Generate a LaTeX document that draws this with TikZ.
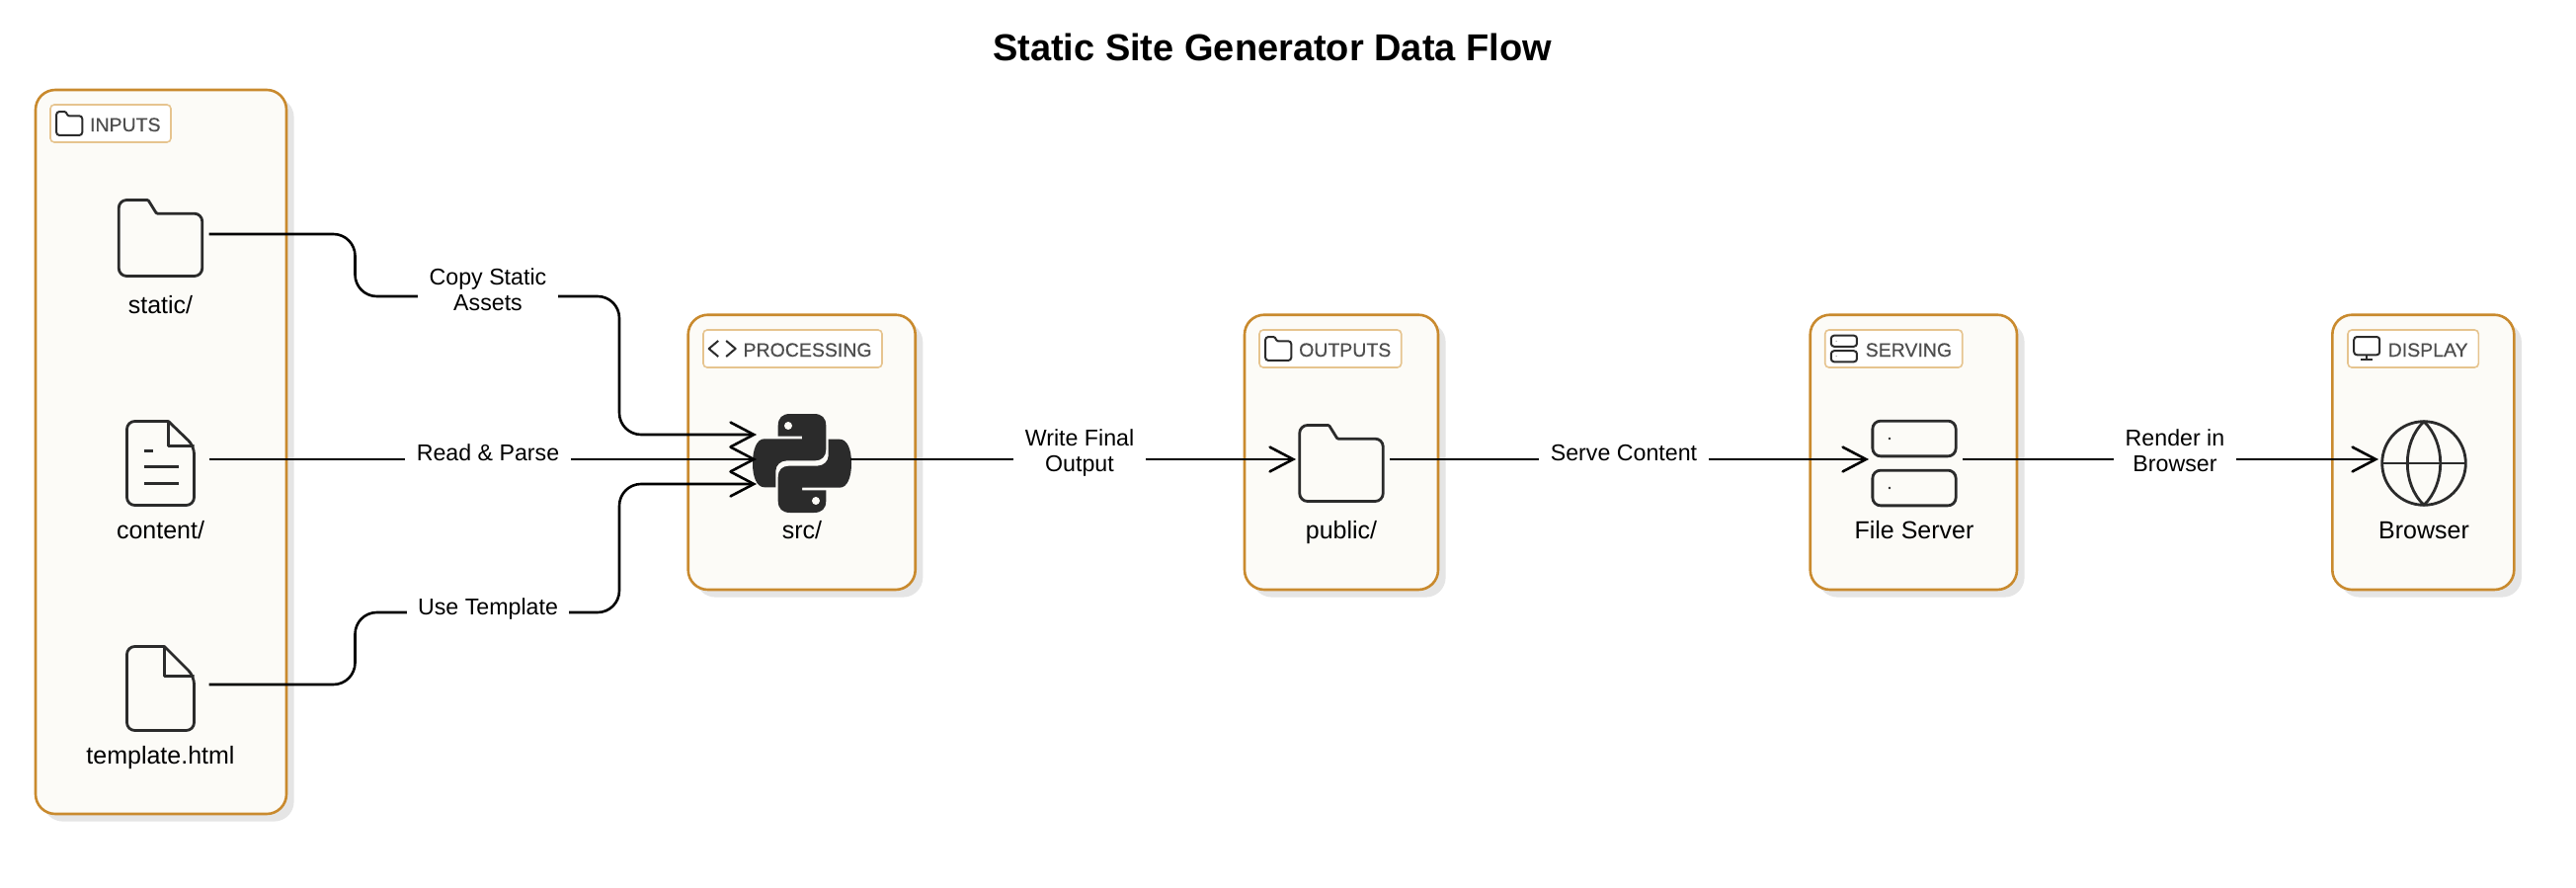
\documentclass[tikz,border=0pt]{standalone}
\usepackage{fontspec}
\setmainfont{Liberation Sans}
\newfontfamily\tagfont[FakeBold=0.35]{Liberation Sans}
\usetikzlibrary{arrows.meta,shadows}
\definecolor{paneledge}{HTML}{C98A2E}
\definecolor{panelfill}{HTML}{FCFBF7}
\definecolor{tagedge}{HTML}{E6C48F}
\definecolor{tagink}{HTML}{4D4D4D}
\definecolor{iconink}{HTML}{2B2B2B}
\tikzset{
iconround/.store in=\iconround, iconround=4pt,
glyphwidth/.store in=\glyphwidth, glyphwidth=1.4pt,
foldx/.store in=\foldx, foldx=8,
foldy/.store in=\foldy, foldy=-17.5,
glyph/.style={draw=iconink, line width=\glyphwidth, line join=round},
smallglyph/.style={scale=.31, iconround=1.5pt, glyphwidth=1pt},
panel/.style={rectangle, draw=paneledge, line width=1.3pt, fill=panelfill, rounded corners=10pt,
  drop shadow={shadow xshift=3.8pt, shadow yshift=-3.8pt, fill=black!10, opacity=1}},
tagbox/.style={rectangle, draw=tagedge, line width=.8pt, fill=white, rounded corners=2pt,
  minimum height=19pt, inner sep=0pt},
taglabel/.style={anchor=base east, inner sep=0pt, text=tagink, font=\tagfont\fontsize{9.75}{11}\selectfont},
iconspot/.style={inner sep=0pt, outer sep=0pt, minimum width=49pt, minimum height=45pt},
iconlabel/.style={anchor=base, inner sep=0pt, font=\fontsize{12.5}{14}\selectfont},
edgelabel/.style={fill=white, align=center, inner xsep=5.75pt, inner ysep=0pt, text depth=2.5pt,
  font=\fontsize{11.6}{13}\selectfont},
flow/.style={draw=black, line width=1.3pt, rounded corners=11pt, shorten >=-1.5pt,
  -{Straight Barb[length=11.8pt,width=12.4pt,line cap=round]}},
foldericon/.pic={
  \draw[glyph] (-12.5,-38.5) [rounded corners=\iconround] -- (-42.25,-38.5) -- (-42.25,38.5)
    -- (42.25,38.5) -- (42.25,-24.8) [rounded corners=.5pt] -- (-4,-24.8) -- cycle;
},
docicon/.pic={
  \draw[glyph] (\foldx,-42.5) [rounded corners=\iconround] -- (-34,-42.5) -- (-34,42.5) -- (34,42.5)
    -- (34,\foldy) [sharp corners] -- (\foldx,-42.5) -- (\foldx,\foldy) -- (34,\foldy);
},
textlines/.pic={
  \draw[glyph] (-17,-12.5) -- (-8,-12.5) (-17,3.5) -- (18,3.5) (-17,20.5) -- (18,20.5);
},
snakehalf/.pic={
  \fill[iconink] (-24.3,-27.3) -- (-24.3,-38) .. controls (-24.3,-46) and (-20,-50) .. (-12,-50)
    -- (12,-50) .. controls (20,-50) and (24.3,-46) .. (24.3,-38) -- (24.3,-14)
    .. controls (24.3,-7) and (20,-2.7) .. (13.3,-2.7) -- (-15,-2.7)
    .. controls (-22,-2.7) and (-26.7,2) .. (-26.7,8) -- (-26.7,24.3) -- (-38,24.3)
    .. controls (-46,24.3) and (-50,14) .. (-50,0) .. controls (-50,-14) and (-46,-24.7) .. (-38,-24.7)
    -- (0,-24.7) -- (0,-27.3) -- cycle;
  \fill[panelfill] (-14,-38) circle [radius=2pt];
},
servericon/.pic={
  \draw[glyph, rounded corners=\iconround] (-42.15,-42.85) rectangle (42.15,-7.15);
  \draw[glyph, rounded corners=\iconround] (-42.15,7.15) rectangle (42.15,42.85);
  \fill[iconink] (-25,-25) circle [radius=.7pt] (-25,25) circle [radius=.7pt];
},
globeicon/.pic={
  \draw[glyph] (0,0) circle [radius=21.15pt];
  \draw[glyph] (-42.3,0) -- (42.3,0);
  \draw[glyph] (0,-42.3) .. controls (22.3,-21) and (22.3,21) .. (0,42.3)
    .. controls (-22.3,21) and (-22.3,-21) .. (0,-42.3) -- cycle;
},
monitoricon/.pic={
  \draw[glyph, rounded corners=1.5pt] (-13,-12) rectangle (13,6.3);
  \draw[glyph] (0,6.3) -- (0,11.3) (-6,11.3) -- (6,11.3);
},
chevrons/.pic={
  \draw[glyph] (-4,-8) -- (-13.5,0) -- (-4,8) (4,-8) -- (13.5,0) -- (4,8);
}
}

\begin{document}
\begin{tikzpicture}[x=.5pt, y=-.5pt]
\useasboundingbox (0,0) rectangle (2608,899);

\node [anchor=base, inner sep=0pt, font=\fontsize{19}{21}\selectfont\bfseries] (title) at (1288,62) {Static Site Generator Data Flow};

% panels
\node [panel, minimum width=127pt, minimum height=366.5pt] (inputs) at (163,457.5) {};
\node [panel, minimum width=115pt, minimum height=139.15pt] (processing) at (811.7,457.85) {};
\node [panel, minimum width=98pt, minimum height=139.15pt] (outputs) at (1358,457.85) {};
\node [panel, minimum width=104.65pt, minimum height=139.15pt] (serving) at (1937.35,457.85) {};
\node [panel, minimum width=92pt, minimum height=139.15pt] (display) at (2453.3,457.85) {};

% tags
\node [tagbox, minimum width=61pt] (inputstag) at (112,125) {};
\node [tagbox, minimum width=90.5pt] (processingtag) at (802.5,353) {};
\node [tagbox, minimum width=71.85pt] (outputstag) at (1346.85,353) {};
\node [tagbox, minimum width=69.5pt] (servingtag) at (1917.2,353) {};
\node [tagbox, minimum width=66.15pt] (displaytag) at (2443.15,353) {};
\node [taglabel] (inputstext) at (163,133) {INPUTS};
\node [taglabel] (processingtext) at (883,361) {PROCESSING};
\node [taglabel] (outputstext) at (1408.7,361) {OUTPUTS};
\node [taglabel] (servingtext) at (1976.5,361) {SERVING};
\node [taglabel] (displaytext) at (2499,361) {DISPLAY};
\pic [smallglyph] at ([xshift=10pt]inputstag.west) {foldericon};
\pic [glyphwidth=1pt] at ([xshift=10pt]processingtag.west) {chevrons};
\pic [smallglyph] at ([xshift=10pt]outputstag.west) {foldericon};
\pic [smallglyph] at ([xshift=10pt]servingtag.west) {servericon};
\pic [glyphwidth=1pt] at ([xshift=10pt]displaytag.west) {monitoricon};

% icons
\node [iconspot] (static) at (162.5,237) {};
\node [iconspot] (content) at (162.5,465) {};
\node [iconspot] (template) at (162.5,693) {};
\node [iconspot] (src) at (812,465) {};
\node [iconspot] (public) at (1358,465) {};
\node [iconspot] (server) at (1938,465) {};
\node [iconspot] (browser) at (2454,465) {};
\pic at ([yshift=-2pt]static) {foldericon};
\pic at ([yshift=-2pt]content) {docicon};
\pic at ([yshift=-2pt]content) {textlines};
\pic [foldx=4, foldy=-12.5] at ([yshift=-2pt]template) {docicon};
\pic at ([yshift=-2pt]src) {snakehalf};
\pic [rotate=180] at ([yshift=-2pt]src) {snakehalf};
\pic at ([yshift=-2pt]public) {foldericon};
\pic at ([yshift=-2pt]server) {servericon};
\pic at ([yshift=-2pt]browser) {globeicon};

\node [iconlabel] (staticname) at ([yshift=-40pt]static) {static/};
\node [iconlabel] (contentname) at ([yshift=-40pt]content) {content/};
\node [iconlabel] (templatename) at ([yshift=-40pt]template) {template.html};
\node [iconlabel] (srcname) at ([yshift=-40pt]src) {src/};
\node [iconlabel] (publicname) at ([yshift=-40pt]public) {public/};
\node [iconlabel] (servername) at ([yshift=-40pt]server) {File Server};
\node [iconlabel] (browsername) at ([yshift=-40pt]browser) {Browser};

% connectors
\draw [flow] (static.east) -- (359.5,237) -- (359.5,300) -- (627,300) -- (627,440) -- ([yshift=12.5pt]src.west);
\draw [flow] (content.east) -- (src.west);
\draw [flow] (template.east) -- (359.5,693) -- (359.5,620) -- (627,620) -- (627,490) -- ([yshift=-12.5pt]src.west);
\draw [flow] (src.east) -- (public.west);
\draw [flow] (public.east) -- (server.west);
\draw [flow] (server.east) -- (browser.west);

\node [edgelabel] (copylabel) at (494,295.5) {Copy Static\\Assets};
\node [edgelabel] (readlabel) at (494,460.7) {Read \& Parse};
\node [edgelabel] (uselabel) at (494,616.5) {Use Template};
\node [edgelabel] (writelabel) at (1093,458.5) {Write Final\\Output};
\node [edgelabel] (servelabel) at (1644,460.7) {Serve Content};
\node [edgelabel] (renderlabel) at (2202,458.5) {Render in\\Browser};

\end{tikzpicture}
\end{document}
